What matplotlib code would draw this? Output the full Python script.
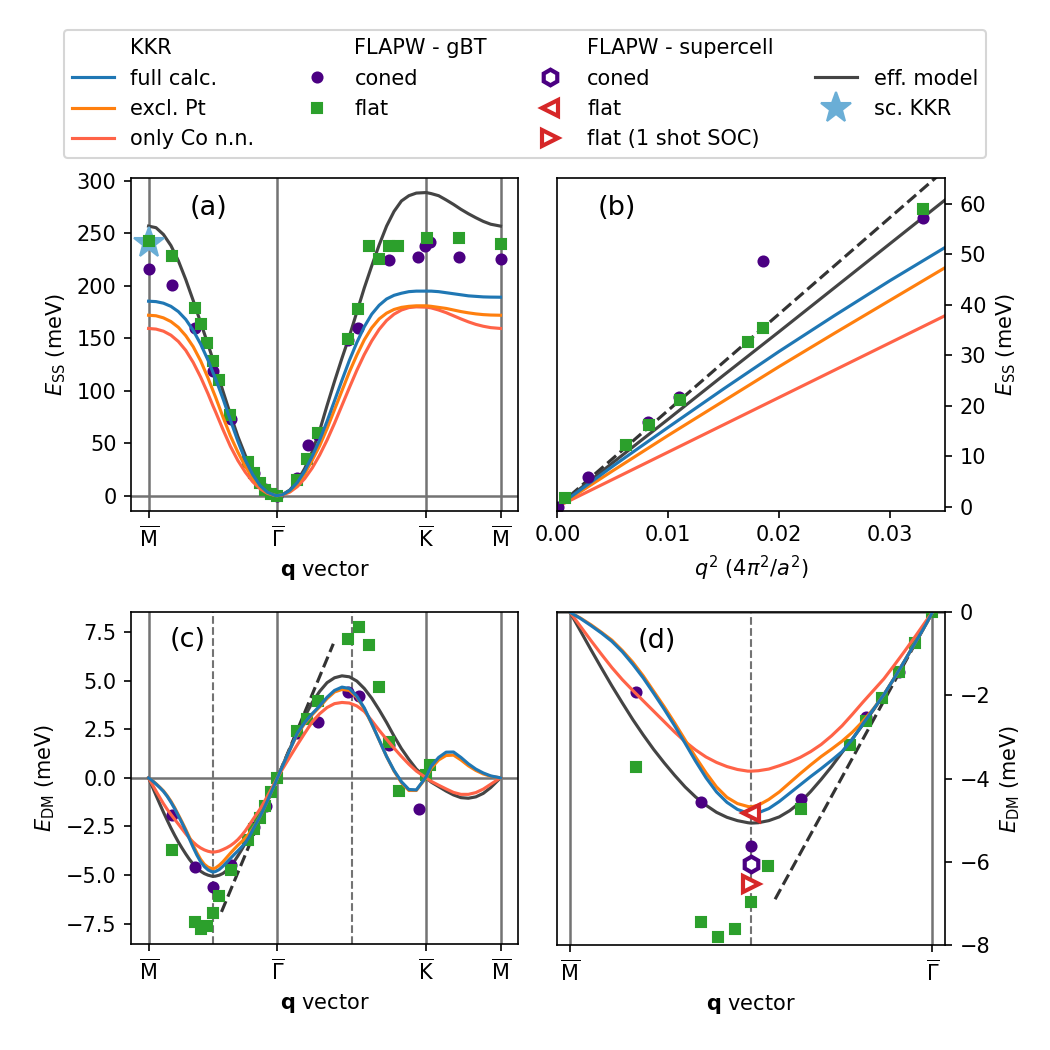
#!/usr/bin/env python

import matplotlib
matplotlib.use('Agg')
import matplotlib.pyplot as plt
from matplotlib.lines import Line2D

plt.close('all')
plt.rcParams['font.size'] = 10

# path coordinate along M - Gamma - K - M (units of |Gamma K|)
sym_pos = [0.0, 0.866, 1.866, 2.366]
sym_lab = [r'$\overline{\rm M}$', r'$\overline{\Gamma}$', r'$\overline{\rm K}$', r'$\overline{\rm M}$']
mid_pos = [0.433, 1.366]

q = [0, 0.05, 0.1, 0.15, 0.2, 0.25, 0.3, 0.35, 0.4, 0.433, 0.45, 0.5, 0.55, 0.6, 0.65, 0.7, 0.75, 0.8, 0.85, 0.866,
     0.9, 0.95, 1.0, 1.05, 1.1, 1.15, 1.2, 1.25, 1.3, 1.35, 1.4, 1.45, 1.5, 1.55, 1.6, 1.65, 1.7, 1.75, 1.8, 1.866,
     1.9, 1.95, 2.0, 2.05, 2.1, 2.15, 2.2, 2.25, 2.3, 2.366]

# E_SS (meV), panel (a)
ess_full = [185.4, 185, 183.5, 180.5, 175.5, 168, 157.5, 144.5, 129, 117.3, 111.5, 92.5, 72, 52, 34, 20, 9.5, 3.1, 0.2, 0,
            0.8, 5, 12.5, 23.5, 37.5, 53, 71, 90.5, 110, 129, 146, 161, 173, 181.5, 187.5, 191, 193, 194.5, 195, 195,
            195, 194.5, 193.5, 192.5, 191.5, 190.5, 190, 189.5, 189.3, 189.2]
ess_exclpt = [172, 171.5, 169.5, 166, 160.5, 152.5, 142, 128.5, 112, 100, 94, 75, 57, 41.5, 28, 17, 8.3, 2.7, 0.16, 0,
              0.7, 4.3, 11, 20.8, 33.7, 47.5, 64, 82, 100, 118, 134, 148.5, 160, 168.5, 174, 177.5, 179.5, 180.5, 181, 181,
              180.5, 179.5, 178.5, 177, 175.5, 174.3, 173.3, 172.6, 172.2, 172]
ess_conn = [159.4, 158.8, 156.8, 153, 147, 138.5, 127, 113, 97, 85.5, 80, 63, 47, 33.5, 22.4, 13.2, 6.5, 2.1, 0.12, 0,
            0.55, 3.4, 8.6, 16.3, 26.3, 38.7, 53, 69, 86, 103, 119.5, 134.5, 147.5, 158.5, 167, 173, 177, 179.3, 180, 179.7,
            179, 177, 174.5, 171.5, 168.5, 165.7, 163.3, 161.5, 160.2, 159.4]
ess_eff = [257, 255.5, 249, 238.5, 224, 206, 186, 165, 144, 129.5, 122, 99.6, 77.5, 56.5, 38.5, 22, 10.5, 3.4, 0.2, 0,
           0.9, 5.4, 13.8, 26, 42, 62, 86, 109, 131, 152, 175, 198, 219, 239, 257, 271, 281, 286, 288.5, 289,
           288, 286, 282, 277.7, 273, 268.8, 265, 261.5, 258.8, 257]

ess_coned_q = [0, 0.157, 0.313, 0.432, 0.555, 0.707, 0.785, 0.866, 1.0, 1.07, 1.137, 1.338, 1.41, 1.613, 1.814,
               1.86, 1.89, 2.087, 2.366]
ess_coned = [216.3, 200.4, 160.0, 118.6, 73.2, 21.7, 6.4, 0, 16.9, 48.7, 57.5, 148.2, 160.0, 224.5, 227.7,
             238.5, 241.7, 227.7, 225.2]
ess_flat_q = [0, 0.157, 0.313, 0.355, 0.393, 0.432, 0.471, 0.55, 0.67, 0.707, 0.746, 0.785, 0.825, 0.866,
              1.0, 1.067, 1.137, 1.338, 1.41, 1.479, 1.546, 1.613, 1.68, 1.873, 2.087, 2.366]
ess_flat = [242.7, 228.4, 179.1, 163.2, 145.7, 128.2, 110.0, 77.3, 31.8, 21.2, 12.1, 5.0, 1.6, 0,
            15.3, 35.0, 59.8, 149.5, 178.4, 238.0, 225.2, 238.0, 238.0, 245.9, 245.9, 239.5]
sckkr_q = [0.0]
sckkr = [241.0]

# panel (b): E_SS vs q^2
q2 = [0, 0.005, 0.01, 0.015, 0.02, 0.025, 0.03, 0.035]
q2_full = [0, 8.0, 15.7, 23.3, 30.7, 37.8, 44.7, 51.3]
q2_exclpt = [0, 7.1, 14.1, 20.9, 27.7, 34.3, 40.8, 47.3]
q2_conn = [0, 5.4, 10.8, 16.2, 21.6, 27.0, 32.4, 37.8]
q2_eff = [0, 8.7, 17.3, 26.0, 34.6, 43.3, 52.0, 60.7]
q2_lin = [0, 0.035]
q2_lin_e = [0, 66.7]
q2_coned_x = [0.0001, 0.0028, 0.0082, 0.0110, 0.0186, 0.0330]
q2_coned = [0.0, 5.93, 16.7, 21.8, 48.7, 57.2]
q2_flat_x = [0.0007, 0.0062, 0.0083, 0.0111, 0.0172, 0.0186, 0.0330]
q2_flat = [1.65, 12.3, 16.2, 21.2, 32.6, 35.3, 59.0]

# E_DM (meV), panels (c) and (d); finer steps on M - Gamma, which (d) enlarges
q_dm = [0, 0.025, 0.05, 0.075, 0.1, 0.125, 0.15, 0.175, 0.2, 0.225, 0.25, 0.275, 0.3, 0.325, 0.35, 0.375,
        0.4, 0.425, 0.433, 0.45, 0.475, 0.5, 0.525, 0.55, 0.575, 0.6, 0.625, 0.65, 0.675, 0.7, 0.725, 0.75,
        0.775, 0.8, 0.825, 0.85, 0.866,
        0.9, 0.95, 1.0, 1.05, 1.1, 1.15, 1.2, 1.25, 1.3, 1.35, 1.4, 1.45, 1.5, 1.55, 1.6, 1.65, 1.7, 1.75, 1.8, 1.866,
        1.9, 1.95, 2.0, 2.05, 2.1, 2.15, 2.2, 2.25, 2.3, 2.366]
edm_full = [0, -0.15, -0.32, -0.5, -0.7, -0.95, -1.25, -1.58, -1.95, -2.33, -2.73, -3.15, -3.58, -3.98, -4.32, -4.57,
            -4.74, -4.83, -4.85, -4.82, -4.72, -4.55, -4.35, -4.15, -3.95, -3.76, -3.56, -3.35, -3.05, -2.68, -2.33, -1.98,
            -1.58, -1.16, -0.73, -0.3, 0,
            0.6, 1.45, 2.3, 2.85, 3.3, 3.7, 4.15, 4.5, 4.67, 4.6, 4.2, 3.6, 2.8, 1.95, 1.1, 0.38, -0.2, -0.6, -0.62, 0.05,
            0.6, 1.05, 1.32, 1.33, 1.05, 0.72, 0.45, 0.25, 0.1, 0]
edm_exclpt = [0, -0.14, -0.3, -0.48, -0.67, -0.92, -1.2, -1.53, -1.9, -2.27, -2.66, -3.07, -3.48, -3.86, -4.2, -4.45,
              -4.6, -4.67, -4.68, -4.64, -4.5, -4.32, -4.1, -3.88, -3.67, -3.47, -3.29, -3.1, -2.88, -2.62, -2.32, -1.98,
              -1.58, -1.16, -0.73, -0.3, 0,
              0.6, 1.45, 2.25, 2.8, 3.25, 3.65, 4.08, 4.42, 4.55, 4.5, 4.15, 3.55, 2.78, 1.95, 1.1, 0.35, -0.25, -0.65, -0.65, 0.02,
              0.5, 0.92, 1.15, 1.17, 0.92, 0.62, 0.38, 0.2, 0.08, 0]
edm_conn = [0, -0.34, -0.68, -1.01, -1.33, -1.62, -1.88, -2.13, -2.38, -2.63, -2.88, -3.11, -3.31, -3.48, -3.61, -3.71,
            -3.78, -3.82, -3.82, -3.81, -3.77, -3.69, -3.6, -3.49, -3.35, -3.18, -2.97, -2.73, -2.45, -2.16, -1.88, -1.6,
            -1.27, -0.93, -0.58, -0.22, 0,
            0.45, 1.08, 1.7, 2.3, 2.88, 3.3, 3.62, 3.82, 3.88, 3.85, 3.7, 3.42, 2.95, 2.45, 1.98, 1.53, 1.1, 0.7, 0.35, 0,
            -0.18, -0.38, -0.57, -0.75, -0.85, -0.85, -0.76, -0.58, -0.33, 0]
edm_eff = [0, -0.45, -0.9, -1.34, -1.77, -2.18, -2.58, -2.95, -3.3, -3.62, -3.92, -4.2, -4.44, -4.64, -4.81, -4.93,
           -5.01, -5.06, -5.07, -5.06, -5.01, -4.92, -4.77, -4.57, -4.31, -4.02, -3.71, -3.37, -3.04, -2.70, -2.35, -1.98,
           -1.58, -1.16, -0.73, -0.29, 0,
           0.62, 1.5, 2.37, 3.15, 3.88, 4.45, 4.9, 5.15, 5.25, 5.2, 4.98, 4.6, 4.1, 3.5, 2.85, 2.15, 1.5, 0.95, 0.45, 0,
           -0.22, -0.45, -0.68, -0.88, -1.02, -1.05, -0.98, -0.8, -0.5, 0]
edm_lin_q = [0.49, 1.242]
edm_lin = [-6.9, 6.9]

edm_coned_q = [0.157, 0.314, 0.432, 0.551, 0.707, 0.786, 1.0, 1.137, 1.34, 1.412, 1.617, 1.818]
edm_coned = [-1.91, -4.57, -5.61, -4.50, -2.53, -1.43, 2.33, 2.85, 4.42, 4.22, 1.71, -1.58]
edm_flat_q = [0.157, 0.314, 0.354, 0.394, 0.432, 0.472, 0.551, 0.669, 0.708, 0.746, 0.785, 0.825, 0.866,
              1.0, 1.068, 1.137, 1.34, 1.412, 1.482, 1.55, 1.617, 1.685, 1.868, 1.891]
edm_flat = [-3.72, -7.44, -7.80, -7.62, -6.96, -6.09, -4.73, -3.18, -2.61, -2.05, -1.43, -0.75, 0.0,
            2.4, 3.05, 3.94, 7.17, 7.77, 6.83, 4.68, 1.82, -0.67, 0.14, 0.65]

# FLAPW supercell, panel (d)
sc_q = [0.433]
sc_coned = [-6.05]
sc_flat = [-4.83]
sc_flat1 = [-6.53]

c_full = 'tab:blue'
c_excl = 'tab:orange'
c_conn = 'tomato'
c_eff = '#444444'
c_coned = 'indigo'
c_flat = 'tab:green'
c_sc = 'tab:red'
c_star = '#6aaed6'
c_grid = '#737373'

fig = plt.figure(figsize=(7, 7), dpi=150)
ax_a = fig.add_axes([0.1248, 0.5136, 0.3686, 0.3166])
ax_b = fig.add_axes([0.5308, 0.5136, 0.3692, 0.3166])
ax_c = fig.add_axes([0.1248, 0.1010, 0.3686, 0.3164])
ax_d = fig.add_axes([0.5308, 0.1000, 0.3692, 0.3169])


def path_frame(ax, mids=True):
    for p in sym_pos:
        ax.axvline(p, color=c_grid, lw=1.2, zorder=1)
    ax.axhline(0, color=c_grid, lw=1.2, zorder=1)
    if mids:
        for p in mid_pos:
            ax.axvline(p, color=c_grid, lw=1.0, ls='--', zorder=1)


# (a)
path_frame(ax_a, mids=False)
ax_a.plot(q, ess_eff, color=c_eff, lw=1.5)
h_star, = ax_a.plot(sckkr_q, sckkr, '*', color=c_star, ms=15, ls='none')
ax_a.plot(ess_coned_q, ess_coned, 'o', color=c_coned, ms=4.8, ls='none')
ax_a.plot(ess_flat_q, ess_flat, 's', color=c_flat, ms=4.8, ls='none')
h_conn, = ax_a.plot(q, ess_conn, color=c_conn, lw=1.5)
h_excl, = ax_a.plot(q, ess_exclpt, color=c_excl, lw=1.5)
h_full, = ax_a.plot(q, ess_full, color=c_full, lw=1.5)
ax_a.set_xlim(-0.118, 2.484)
ax_a.set_ylim(-14.4, 302.6)
ax_a.set_xticks(sym_pos)
ax_a.set_xticklabels(sym_lab)
ax_a.set_xlabel(r'$\mathbf{q}$ vector')
ax_a.set_ylabel(r'$E_{\rm SS}$ (meV)')
ax_a.text(0.152, 0.91, '(a)', transform=ax_a.transAxes, fontsize=13, va='center')

# (b)
ax_b.plot(q2_lin, q2_lin_e, color='#333333', lw=1.5, ls='--')
h_eff, = ax_b.plot(q2, q2_eff, color=c_eff, lw=1.5)
ax_b.plot(q2, q2_conn, color=c_conn, lw=1.5)
ax_b.plot(q2, q2_exclpt, color=c_excl, lw=1.5)
ax_b.plot(q2, q2_full, color=c_full, lw=1.5)
h_coned, = ax_b.plot(q2_coned_x, q2_coned, 'o', color=c_coned, ms=4.8, ls='none')
h_flat, = ax_b.plot(q2_flat_x, q2_flat, 's', color=c_flat, ms=4.8, ls='none')
ax_b.set_xlim(0, 0.035)
ax_b.set_ylim(-0.8, 65)
ax_b.set_xticks([0, 0.01, 0.02, 0.03])
ax_b.set_xticklabels(['0.00', '0.01', '0.02', '0.03'])
ax_b.yaxis.tick_right()
ax_b.yaxis.set_label_position('right')
ax_b.set_xlabel(r'$q^2$ $(4\pi^2/a^2)$')
ax_b.set_ylabel(r'$E_{\rm SS}$ (meV)')
ax_b.text(0.103, 0.91, '(b)', transform=ax_b.transAxes, fontsize=13, va='center')

# (c) and (d) share the E_DM data
for ax in (ax_c, ax_d):
    path_frame(ax)
    ax.plot(edm_lin_q, edm_lin, color='#333333', lw=1.5, ls='--')
    ax.plot(q_dm, edm_eff, color=c_eff, lw=1.5)
    ax.plot(edm_coned_q, edm_coned, 'o', color=c_coned, ms=4.8, ls='none')
    ax.plot(edm_flat_q, edm_flat, 's', color=c_flat, ms=4.8, ls='none')
    ax.plot(q_dm, edm_conn, color=c_conn, lw=1.5)
    ax.plot(q_dm, edm_exclpt, color=c_excl, lw=1.5)
    ax.plot(q_dm, edm_full, color=c_full, lw=1.5)
    ax.set_xticks(sym_pos)
    ax.set_xticklabels(sym_lab)
    ax.set_xlabel(r'$\mathbf{q}$ vector')
    ax.set_ylabel(r'$E_{\rm DM}$ (meV)')

ax_c.set_xlim(-0.118, 2.484)
ax_c.set_ylim(-8.55, 8.55)
ax_c.text(0.1, 0.915, '(c)', transform=ax_c.transAxes, fontsize=13, va='center')

h_sc_coned, = ax_d.plot(sc_q, sc_coned, 'h', mfc='white', mec=c_coned, mew=2, ms=7.5, ls='none', zorder=5)
h_sc_flat, = ax_d.plot(sc_q, sc_flat, '<', mfc='white', mec=c_sc, mew=2, ms=7.5, ls='none', zorder=5)
h_sc_flat1, = ax_d.plot(sc_q, sc_flat1, '>', mfc='white', mec=c_sc, mew=2, ms=7.5, ls='none', zorder=5)
ax_d.set_xlim(-0.0303, 0.896)
ax_d.set_ylim(-8, 0)
ax_d.yaxis.tick_right()
ax_d.yaxis.set_label_position('right')
ax_d.text(0.206, 0.914, '(d)', transform=ax_d.transAxes, fontsize=13, va='center')

blank = Line2D([], [], color='none')
handles = [blank, h_full, h_excl, h_conn,
           blank, h_coned, h_flat, blank,
           blank, h_sc_coned, h_sc_flat, h_sc_flat1,
           blank, h_eff, h_star, blank]
labels = ['KKR', 'full calc.', 'excl. Pt', 'only Co n.n.',
          'FLAPW - gBT', 'coned', 'flat', '',
          'FLAPW - supercell', 'coned', 'flat', 'flat (1 shot SOC)',
          '', 'eff. model', 'sc. KKR', '']
fig.legend(handles, labels, ncol=4, loc='upper center', bbox_to_anchor=(0.5, 0.9815),
           numpoints=1, fontsize=10)

plt.savefig('out.png', dpi=150)
